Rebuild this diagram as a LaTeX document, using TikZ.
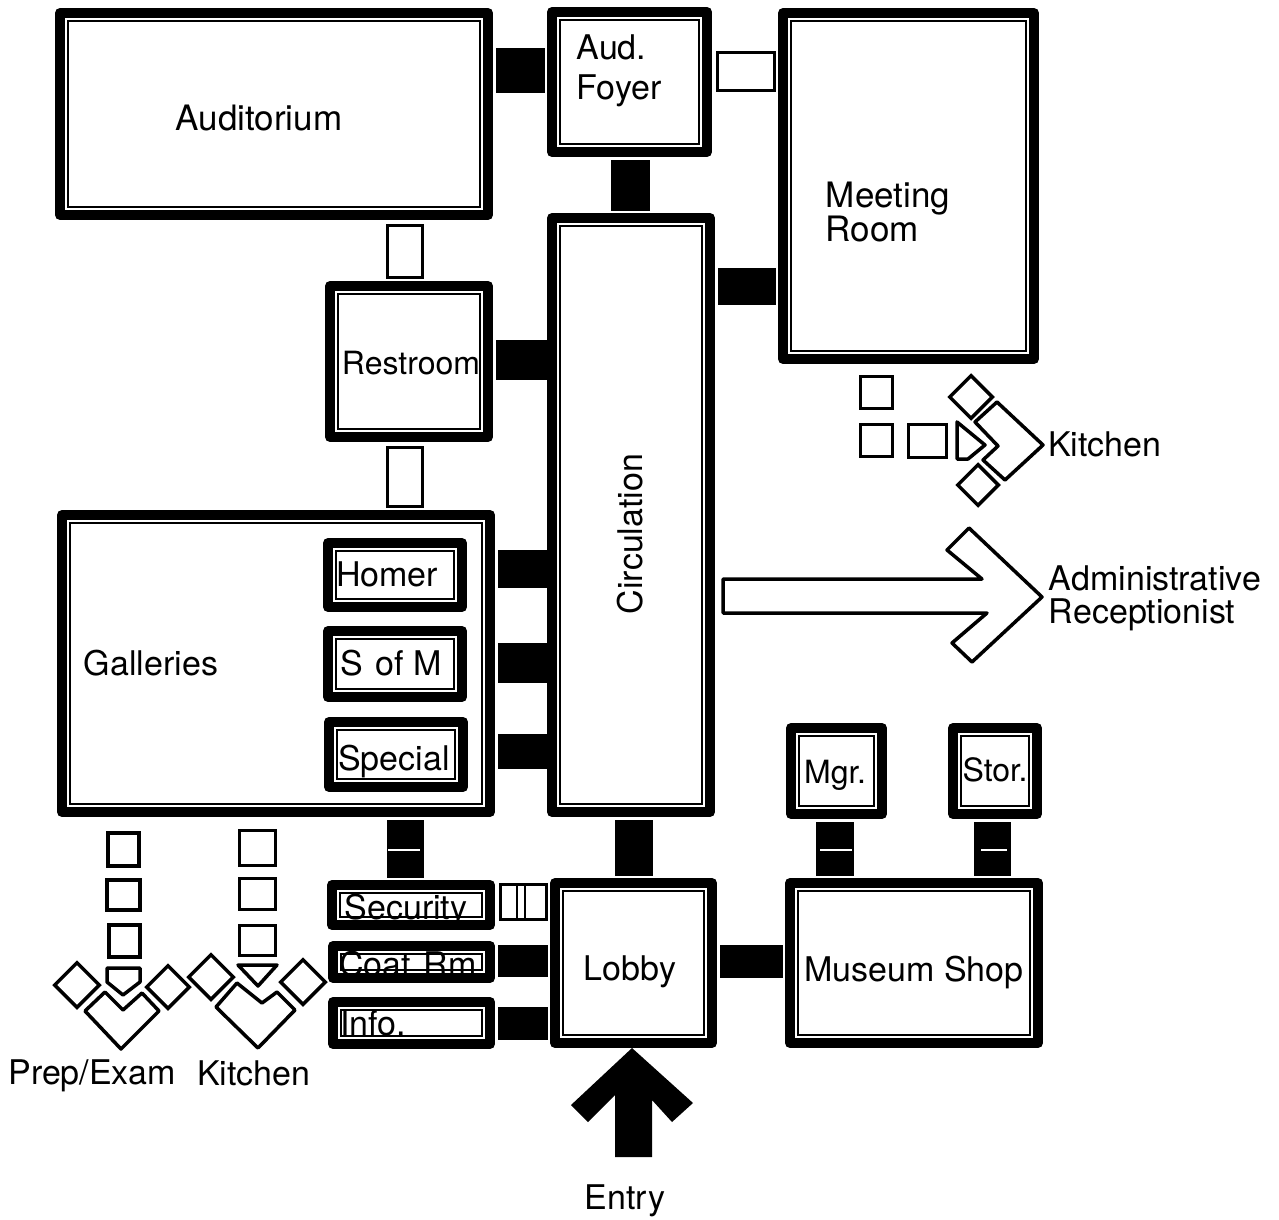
\documentclass[tikz,border=0pt]{standalone}
\usepackage{fontspec}
\setmainfont{TeX Gyre Heros}
\usetikzlibrary{shapes.geometric}
\begin{document}
\begin{tikzpicture}[
    x=1pt, y=-1pt,
    room/.style={draw=black, line width=10pt, line join=round, inner sep=0pt, path picture={
      \draw[line width=2pt, line join=miter] ([shift={(8pt,-8pt)}]path picture bounding box.north west)
        rectangle ([shift={(-8pt,8pt)}]path picture bounding box.south east);}},
    dims/.style 2 args={minimum width=#1pt, minimum height=#2pt},
    roomtext/.style={font=\fontsize{34}{33}\selectfont, inner sep=0pt, align=left},
    widetext/.style={font=\fontsize{35}{33}\selectfont},
    tighttext/.style={font=\fontsize{32}{33}\selectfont},
    solidlink/.style={draw=black, shorten <=3pt, shorten >=2pt},
    openlink/.style={draw=black, line width=#1pt, shorten <=4pt, shorten >=2pt,
      postaction={draw=white, line width=#1pt-6pt, shorten <=7pt, shorten >=5pt}},
    slit/.style={draw=white, line width=1.2pt},
    stepbox/.style={draw=black, line width=3.5pt, inner sep=0pt},
    stepdiamond/.style={diamond, draw=black, line width=3.5pt, inner sep=0pt, aspect=1},
    outline/.style={draw=black, line width=3.5pt, line join=round}
  ]
    \useasboundingbox (0,0) rectangle (1279,1220);
    % these two labels sit under the frame of their room
    \node[roomtext] (securitytext) at (406,910) {Security};
    \node[roomtext] (coattext) at (408,964) {Coat\hspace{3pt} Rm};
    % rooms
    \node[room, dims={428}{202}] (auditorium) at (274,114) {};
    \node[room, dims={155}{140}] (foyer) at (629.5,82) {};
    \node[room, dims={251}{346}] (meeting) at (908.5,186) {};
    \node[room, dims={158}{594}] (circulation) at (631,515) {};
    \node[room, dims={158}{151}] (restroom) at (409,361.5) {};
    \node[room, dims={428}{297}] (galleries) at (276,663.5) {};
    \node[room, dims={157}{160}] (lobby) at (633.5,963) {};
    \node[room, dims={248}{160}] (shop) at (914,963) {};
    \node[room, dims={91}{86}] (mgr) at (836.5,771) {};
    \node[room, dims={84}{86}] (stor) at (995,771) {};
    \node[room, dims={134}{64}] (homer) at (395,575) {};
    \node[room, dims={134}{66}] (sofm) at (395,664) {};
    \node[room, dims={134}{65}] (special) at (396,754.5) {};
    \node[room, dims={158}{40}] (security) at (411,905) {};
    \node[room, dims={157}{32}] (coat) at (411.5,962) {};
    \node[room, dims={157}{42}] (info) at (411.5,1023) {};
    % room labels
    \node[roomtext, widetext] (auditoriumtext) at (259,118) {Auditorium};
    \node[roomtext, font=\fontsize{34}{40}\selectfont] (foyertext) at (619,71) {Aud.\\Foyer};
    \node[roomtext, widetext] (meetingtext) at (888,212) {Meeting\\Room};
    \node[roomtext, tighttext] (restroomtext) at (411,363) {Restroom};
    \node[roomtext] (galleriestext) at (151,663) {Galleries};
    \node[roomtext] (homertext) at (387,574) {Homer};
    \node[roomtext] (sofmtext) at (391,663) {S\hspace{3pt} of M};
    \node[roomtext] (specialtext) at (394,761) {Special};
    \node[roomtext] (infotext) at (373,1023) {Info.};
    \node[roomtext] (lobbytext) at (630,972) {Lobby};
    \node[roomtext] (shoptext) at (914,972) {Museum Shop};
    \node[roomtext, tighttext] (mgrtext) at (835,775) {Mgr.};
    \node[roomtext, tighttext] (stortext) at (995,770) {Stor.};
    \node[roomtext, rotate=90] (circulationtext) at (630,534) {Circulation};
    \node[roomtext] (kitchentext) at (1105,444) {Kitchen};
    \node[roomtext] (admintext) at (1155,598) {Administrative\\Receptionist};
    \node[roomtext] (preptext) at (92,1076) {Prep/Exam};
    \node[roomtext] (kitchenlefttext) at (254,1073) {Kitchen};
    \node[roomtext] (entrytext) at (625,1201) {Entry};
    % solid links
    \draw[solidlink, line width=45pt] (auditorium.east |- 0,71) -- (foyer.west |- 0,71);
    \draw[solidlink, line width=39pt] (foyer.south -| 630,0) -- (circulation.north -| 630,0);
    \draw[solidlink, line width=37pt] (circulation.east |- 0,286) -- (meeting.west |- 0,286);
    \draw[solidlink, line width=40pt, shorten >=0pt] (restroom.east |- 0,360) -- (circulation.west |- 0,360);
    \foreach \y/\w in {569/38, 663/40, 751/35} {
      \draw[solidlink, line width=\w pt, shorten >=0pt] (galleries.east |- 0,\y) -- (circulation.west |- 0,\y);
    }
    \draw[solidlink, line width=37pt] (galleries.south -| 405,0) -- (security.north -| 405,0);
    \draw[solidlink, line width=38pt] (circulation.south -| 634,0) -- (lobby.north -| 634,0);
    \draw[solidlink, line width=38pt] (mgr.south -| 835,0) -- (shop.north -| 835,0);
    \draw[solidlink, line width=37pt] (stor.south -| 992.5,0) -- (shop.north -| 992.5,0);
    \draw[solidlink, line width=32pt] (coat.east |- 0,961) -- (lobby.west |- 0,961);
    \draw[solidlink, line width=33pt] (info.east |- 0,1023) -- (lobby.west |- 0,1023);
    \draw[solidlink, line width=33pt] (lobby.east |- 0,961) -- (shop.west |- 0,961);
    \foreach \x/\w in {404/16, 836/16, 994/13} {
      \draw[slit] (\x-\w,850) -- (\x+\w,850);
    }
    % open links
    \draw[openlink=41] (foyer.east |- 0,72) -- (meeting.west |- 0,72);
    \draw[openlink=38] (auditorium.south -| 405,0) -- (restroom.north -| 405,0);
    \draw[openlink=38] (restroom.south -| 405,0) -- (galleries.north -| 405,0);
    \draw[openlink=38] (security.east |- 0,902) -- (lobby.west |- 0,902);
    \draw[line width=2pt] (517,884) -- (517,920) (525,884) -- (525,920);
    % Prep/Exam steps
    \node[stepbox, dims={31}{33}] (prepa) at (123.5,849.5) {};
    \node[stepbox, dims={33}{30}] (prepb) at (123.5,895) {};
    \node[stepbox, dims={31}{32}] (prepc) at (124.5,941) {};
    \node[stepdiamond, minimum size=46pt] (prepd) at (77,985) {};
    \node[stepdiamond, minimum size=44pt] (prepe) at (168,987) {};
    \draw[outline] (107,968) -- (140,968) -- (140,982) -- (123,995) -- (107,982) -- cycle;
    \draw[outline] (85,1011) -- (105,992) -- (123,1010) -- (142,993) -- (159,1011) -- (121,1049) -- cycle;
    % left Kitchen steps
    \node[stepbox, dims={36}{35}] (kitchena) at (257.5,848) {};
    \node[stepbox, dims={36}{31}] (kitchenb) at (257.5,894) {};
    \node[stepbox, dims={36}{30}] (kitchenc) at (257.5,940.5) {};
    \node[stepdiamond, minimum size=46pt] (kitchend) at (211,977) {};
    \node[stepdiamond, minimum size=46pt] (kitchene) at (303,982) {};
    \draw[outline] (238,965) -- (277,965) -- (258,986) -- cycle;
    \draw[outline] (216,1007) -- (237,983) -- (262,1003) -- (277,992) -- (295,1010) -- (258,1048) -- cycle;
    % right Kitchen steps
    \node[stepbox, dims={32}{32}] (meala) at (876.5,392.5) {};
    \node[stepbox, dims={32}{32}] (mealb) at (876.5,440.5) {};
    \node[stepbox, dims={38}{33}] (mealc) at (927.5,441) {};
    \node[stepdiamond, minimum size=44pt] (meald) at (971,397) {};
    \node[stepdiamond, minimum size=42pt] (meale) at (978,485) {};
    \draw[outline] (957,422) -- (985,445) -- (968,459) -- (957,459) -- cycle;
    \draw[outline] (997,402) -- (1043,445) -- (1005,480) -- (983,460) -- (998,446) -- (975,422) -- cycle;
    % arrows
    \draw[outline] (723,579) -- (982,579) -- (947,550) -- (969,528) -- (1042,597)
      -- (972,662) -- (952,643) -- (987,613) -- (723,613) -- cycle;
    \fill[black] (632,1048) -- (693,1103) -- (672,1122) -- (652,1100) -- (652,1157)
      -- (615,1157) -- (615,1095) -- (588,1122) -- (571,1105) -- cycle;
  \end{tikzpicture}
\end{document}
